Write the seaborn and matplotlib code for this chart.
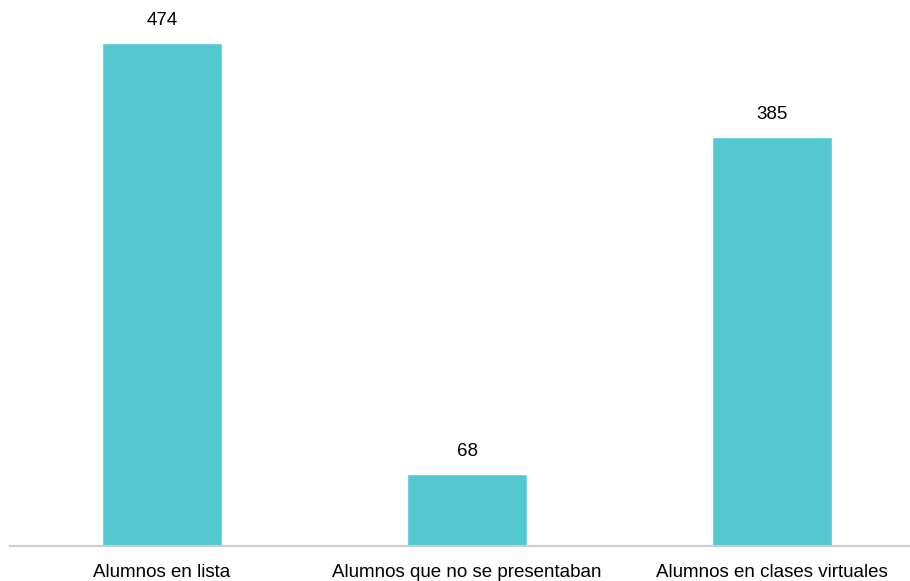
import matplotlib
matplotlib.use("Agg")
import matplotlib.pyplot as plt
import seaborn as sns
import pandas as pd

categorias = ["Alumnos en lista", "Alumnos que no se presentaban", "Alumnos en clases virtuales"]
valores = [474, 68, 385]

df = pd.DataFrame({"categoria": categorias, "valor": valores})

sns.set_style("white")
plt.rcParams["font.family"] = ["Liberation Sans", "DejaVu Sans"]

fig = plt.figure(figsize=(9.10, 5.81), dpi=100)
ax = fig.add_axes([10 / 910, 35 / 581, 900 / 910, 530 / 581])

sns.barplot(data=df, x="categoria", y="valor", color="#53C8D0",
            saturation=1, width=0.393, ax=ax)

ax.set_xlim(-0.498, 2.452)
ax.set_ylim(0, 499)

for i, v in enumerate(valores):
    ax.annotate(f"{v}", xy=(i, v), xytext=(0, 10), textcoords="offset points",
                ha="center", va="bottom", fontsize=13.5, color="#000000")

for s in ["top", "right", "left"]:
    ax.spines[s].set_visible(False)
ax.spines["bottom"].set_color("#CCCCCC")
ax.spines["bottom"].set_linewidth(1.5)

ax.set_yticks([])
ax.set_xlabel("")
ax.set_ylabel("")
ax.tick_params(axis="x", length=0, pad=13, labelsize=13.5, labelcolor="#000000")

fig.savefig("out.png", dpi=100, facecolor="white")
